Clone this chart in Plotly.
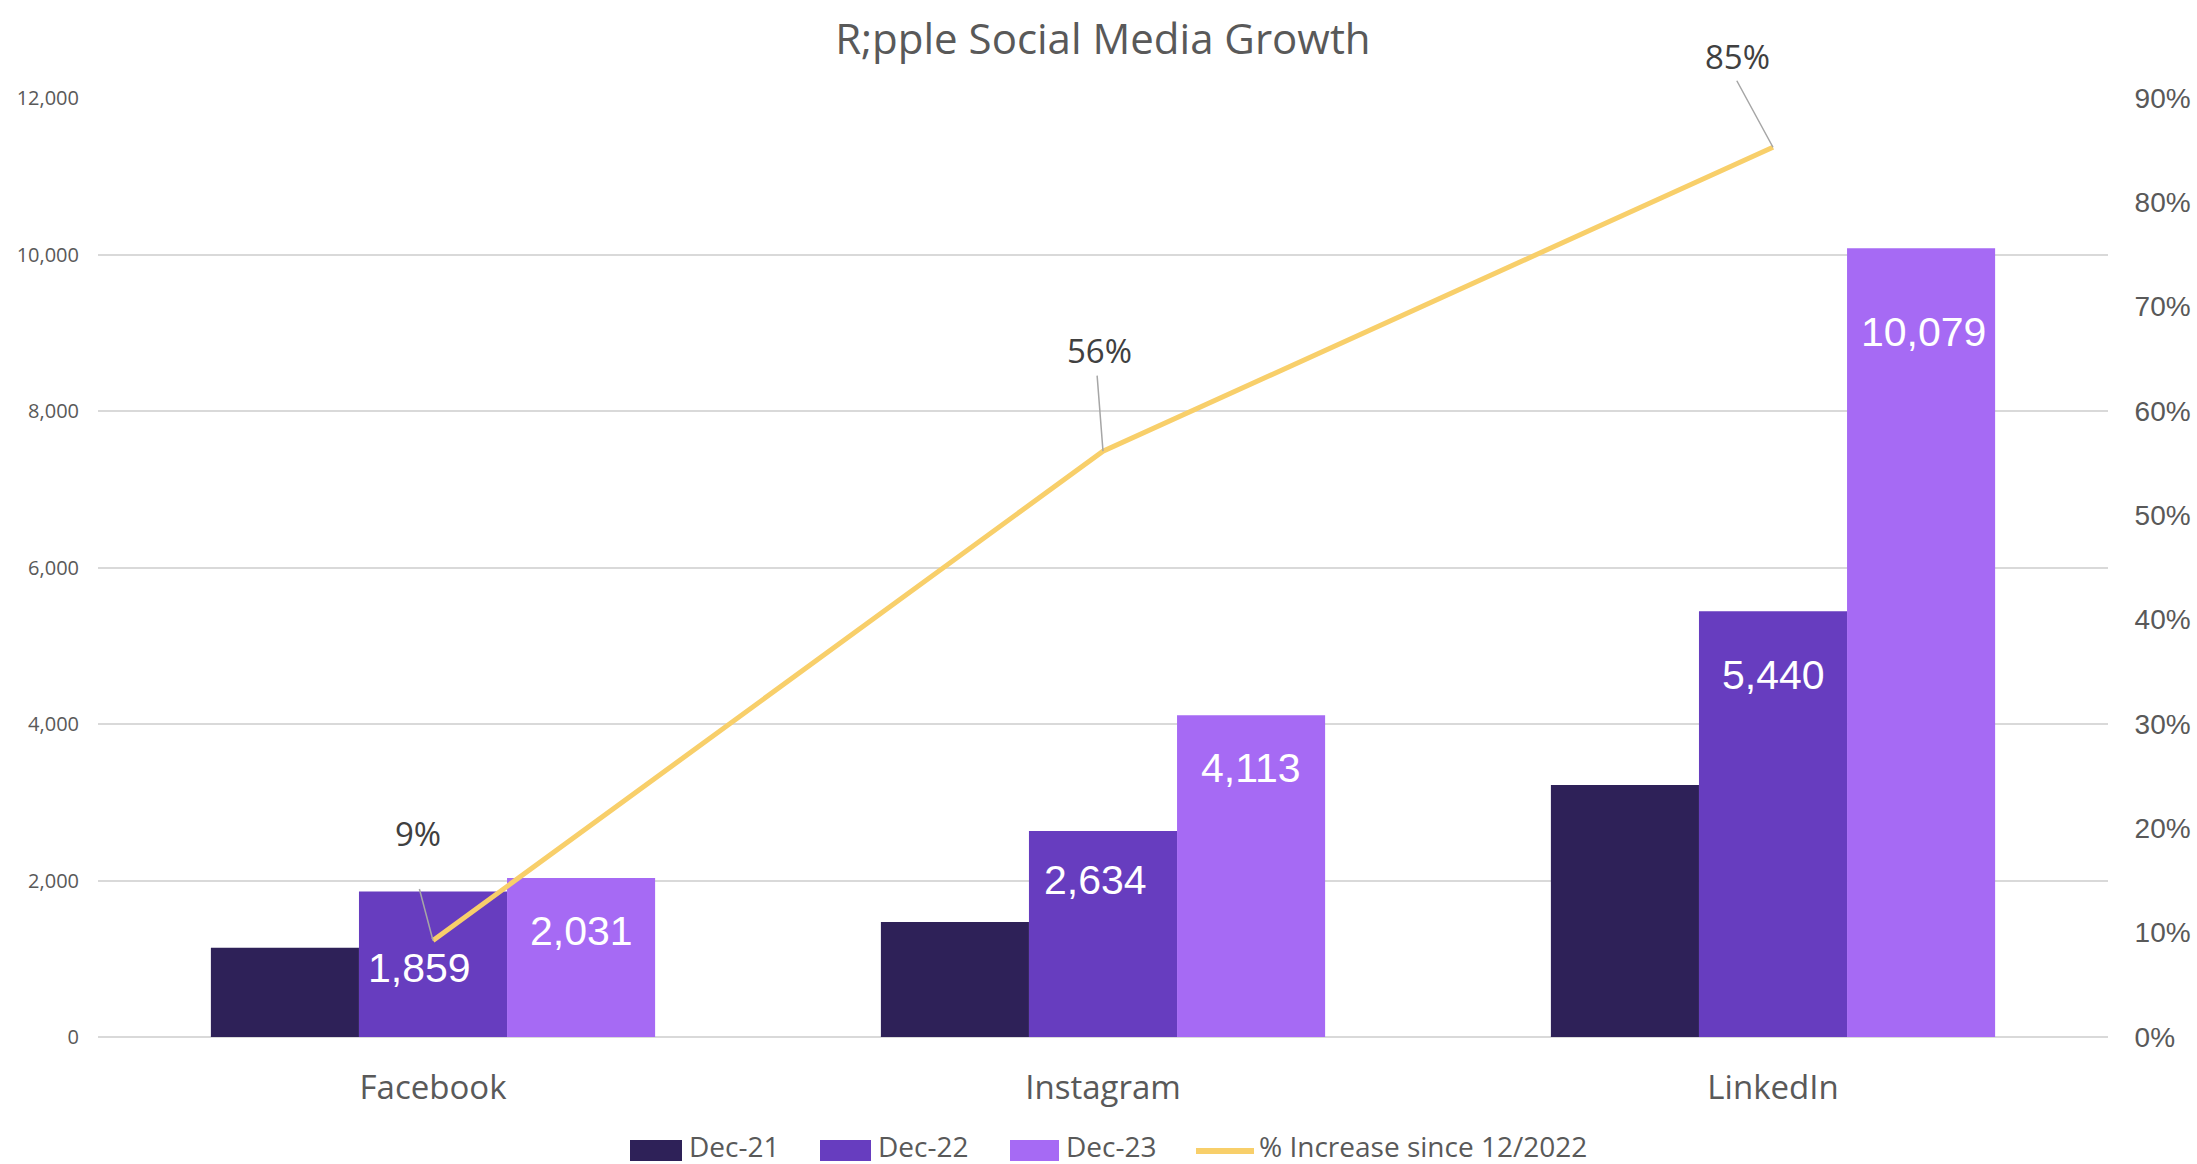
import plotly.graph_objects as go

# ---- data ----
categories = ["Facebook", "Instagram", "LinkedIn"]
dec21 = [1141, 1470, 3220]
dec22 = [1859, 2634, 5440]
dec23 = [2031, 4113, 10079]
pct_increase = [0.0925, 0.5615, 0.8528]
series_names = ["Dec-21", "Dec-22", "Dec-23"]
line_name = "% Increase since 12/2022"

# ---- style ----
W, H = 2197, 1164
ML, MR, MT, MB = 98, 89, 98, 127
PW, PH = W - ML - MR, H - MT - MB
BARGAP = 0.337
C21, C22, C23 = "#2E2158", "#673DBF", "#A66AF4"
CLINE = "#F8CF6A"
GRAY = "#595959"
GRID = "#D9D9D9"
BODY = "Open Sans, Lato, sans-serif"
ARIAL = "Liberation Sans, Arial, sans-serif"

# label placement (pixels below bar top / sideways nudge, per category) -- styling only
label_drop = {1: [76, 49, 64], 2: [53, 53, 84]}
label_nudge = {1: [-14, -8, 0], 2: [0, 0, 2]}


def px_x(px):
    return (px - ML) / PW


def px_y(py):
    return (H - MB - py) / PH


fig = go.Figure()
for s, (vals, col) in enumerate(zip([dec21, dec22, dec23], [C21, C22, C23])):
    fig.add_trace(go.Bar(x=categories, y=vals, name=series_names[s], marker_color=col,
                         marker_line_width=0, showlegend=False))
fig.add_trace(go.Scatter(x=categories, y=pct_increase, name=line_name, yaxis="y2",
                         mode="lines", line=dict(color=CLINE, width=5), showlegend=False))

annotations = []

# bar data labels (Dec-22 and Dec-23 only), placed inside the top of each bar
bar_w = (PW / len(categories)) * (1 - BARGAP) / 3
for s, vals in [(1, dec22), (2, dec23)]:
    for i, (c, v) in enumerate(zip(categories, vals)):
        annotations.append(dict(x=c, y=v, xref="x", yref="y", text=f"{v:,}", showarrow=False,
                                xshift=(s - 1) * bar_w + label_nudge[s][i],
                                yshift=-label_drop[s][i],
                                xanchor="center", yanchor="middle",
                                font=dict(family=ARIAL, size=41, color="white")))

# line data labels with leader lines
leader = [(-14, -53), (-6, -77), (-37, -68)]
label_shift = [(-15, 107), (-4, 101), (-36, 91)]
for i, (c, v) in enumerate(zip(categories, pct_increase)):
    annotations.append(dict(x=c, y=v, xref="x", yref="y2", text="", showarrow=True,
                            arrowhead=0, arrowwidth=1.5, arrowcolor="#A6A6A6",
                            ax=leader[i][0], ay=leader[i][1], standoff=0, startstandoff=0))
    annotations.append(dict(x=c, y=v, xref="x", yref="y2", text=f"{v:.0%}", showarrow=False,
                            xshift=label_shift[i][0], yshift=label_shift[i][1],
                            font=dict(family=BODY, size=33, color="#404040")))

# custom legend (matches the large swatches of the original)
shapes = []
legend_items = [(series_names[0], C21, 630, 682), (series_names[1], C22, 820, 871),
                (series_names[2], C23, 1010, 1059)]
ly = 1146
for name, col, x0, x1 in legend_items:
    shapes.append(dict(type="rect", xref="paper", yref="paper", x0=px_x(x0), x1=px_x(x1),
                       y0=px_y(1161), y1=px_y(1140), fillcolor=col, line_width=0))
    annotations.append(dict(xref="paper", yref="paper", x=px_x(x1 + 5), y=px_y(ly),
                            xanchor="left", yanchor="middle", text=name, showarrow=False,
                            font=dict(family=BODY, size=28, color=GRAY)))
shapes.append(dict(type="line", xref="paper", yref="paper", x0=px_x(1196), x1=px_x(1254),
                   y0=px_y(1151), y1=px_y(1151), line=dict(color=CLINE, width=6)))
annotations.append(dict(xref="paper", yref="paper", x=px_x(1257), y=px_y(ly),
                        xanchor="left", yanchor="middle", text=line_name, showarrow=False,
                        font=dict(family=BODY, size=28, color=GRAY)))

fig.update_layout(
    width=W, height=H,
    margin=dict(l=ML, r=MR, t=MT, b=MB, autoexpand=False),
    paper_bgcolor="white", plot_bgcolor="white",
    barmode="group", bargap=BARGAP, bargroupgap=0,
    title=dict(text="R;pple Social Media Growth", x=0.502, xanchor="center", y=0.966,
               yanchor="middle", font=dict(family=BODY, size=42, color=GRAY)),
    xaxis=dict(type="category", showgrid=False, showline=False, zeroline=False,
               ticks="outside", ticklen=21, tickcolor="rgba(0,0,0,0)",
               tickfont=dict(family=BODY, size=33, color=GRAY)),
    yaxis=dict(range=[0, 12000], dtick=2000, tickformat=",", showgrid=True,
               gridcolor=GRID, gridwidth=1.5, zeroline=True, zerolinecolor=GRID,
               zerolinewidth=1.5, showline=False, ticks="outside", ticklen=14,
               tickcolor="rgba(0,0,0,0)", tickfont=dict(family=BODY, size=20, color=GRAY)),
    yaxis2=dict(range=[0, 0.9], dtick=0.1, tickformat=".0%", overlaying="y", side="right",
                showgrid=False, zeroline=False, showline=False, ticks="outside", ticklen=20,
                tickcolor="rgba(0,0,0,0)", tickfont=dict(family=ARIAL, size=28, color=GRAY)),
    showlegend=False,
    annotations=annotations,
    shapes=shapes,
)

fig.write_html("out.html")
